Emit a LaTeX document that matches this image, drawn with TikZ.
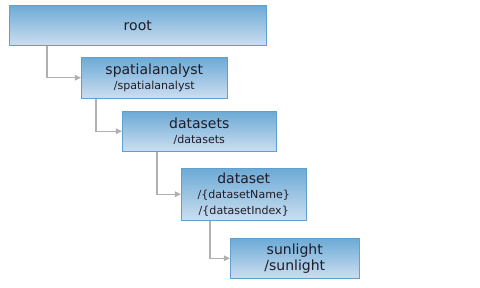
\documentclass[tikz,border=0pt]{standalone}
\usepackage{fontspec}
\setmainfont{DejaVu Sans}
\usetikzlibrary{arrows.meta, positioning, calc}
\definecolor{boxtop}{RGB}{108,170,214}
\definecolor{boxbot}{RGB}{204,222,240}
\definecolor{boxline}{RGB}{96,160,206}
\definecolor{linkgray}{RGB}{176,176,176}
\definecolor{txt}{RGB}{30,28,40}
\newcommand{\sub}[1]{{\fontsize{8.3}{9.8}\selectfont #1}}

\begin{document}
\begin{tikzpicture}[
  x=0.75pt, y=-0.75pt,
  >={Triangle[length=4.5pt,width=4pt]},
  res/.style={draw=boxline, top color=boxtop, bottom color=boxbot, anchor=north west,
    inner sep=0pt, text=txt, align=center, font=\fontsize{10.5}{13}\selectfont},
  link/.style={draw=linkgray, line width=1.1pt, ->}
  ]
  \useasboundingbox (0,0) rectangle (480,288);

  \node[res, minimum width=257*0.75pt, minimum height=40*0.75pt] (root) at (9,5) {root};
  \node[res, minimum width=146*0.75pt, minimum height=41*0.75pt] (spatial) at (81,57)
    {spatialanalyst\\[-2pt]\sub{/spatialanalyst}};
  \node[res, minimum width=154*0.75pt, minimum height=40*0.75pt] (datasets) at (122,111)
    {datasets\\[-2pt]\sub{/datasets}};
  \node[res, minimum width=125*0.75pt, minimum height=52*0.75pt] (dataset) at (181,168)
    {dataset\\[-2pt]\sub{/\{datasetName\}}\\[-1pt]\sub{/\{datasetIndex\}}};
  \node[res, minimum width=129*0.75pt, minimum height=40*0.75pt] (sunlight) at (230,238)
    {sunlight\\[-1pt]/sunlight};

  \draw[link] ([xshift=38*0.75pt]root.south west) |- (spatial.west);
  \draw[link] ([xshift=15*0.75pt]spatial.south west) |- (datasets.west);
  \draw[link] ([xshift=35*0.75pt]datasets.south west) |- (dataset.west);
  \draw[link] ([xshift=29*0.75pt]dataset.south west) |- (sunlight.west);
\end{tikzpicture}
\end{document}
